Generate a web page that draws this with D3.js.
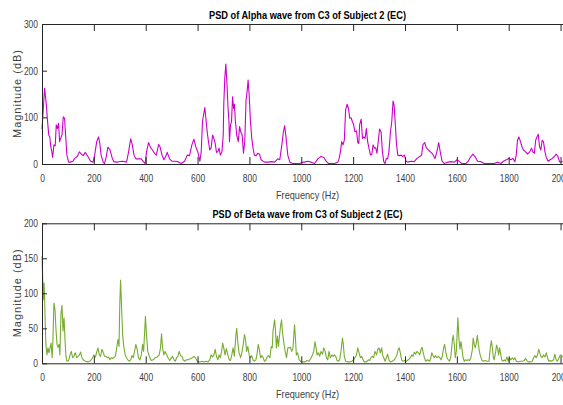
<!DOCTYPE html>
<html><head><meta charset="utf-8">
<script src="https://cdn.jsdelivr.net/npm/d3@7/dist/d3.min.js"></script>
<style>
body{margin:0;background:#fff;overflow:hidden}
text{font-family:"Liberation Sans Narrow","Liberation Sans",Arial,sans-serif}
</style>
</head><body>
<svg id="c" width="563" height="405"></svg>
<script>
// ---- data ----
const xTicks = [0,200,400,600,800,1000,1200,1400,1600,1800,2000];
const alphaYTicks = [0,100,200,300];
const betaYTicks = [0,50,100,150,200];
const alphaTitle = "PSD of Alpha wave from C3 of Subject 2 (EC)";
const betaTitle = "PSD of Beta wave from C3 of Subject 2 (EC)";
const xLabel = "Frequency (Hz)";
const yLabel = "Magnitude (dB)";

const alphaFreq = [0,10,17,20,26,30,34,38,41,46,51,55,59,64,68,72,77,82,87,91,96,103,110,119,126,136,144,152,159,167,177,188,197,203,211,218,223,228,236,241,248,254,262,270,277,288,298,308,319,326,334,342,348,355,362,373,383,391,398,403,411,419,426,434,441,450,455,463,470,477,483,492,501,511,524,537,550,560,569,578,586,593,601,609,614,619,623,628,632,637,642,647,652,658,663,668,673,678,683,688,694,699,701,705,709,713,717,721,723,727,731,735,739,742,746,751,757,762,767,772,777,782,787,791,795,799,804,809,814,819,826,832,839,845,858,871,884,897,909,917,925,931,936,941,948,956,967,980,993,1006,1012,1025,1038,1051,1064,1076,1087,1096,1105,1115,1128,1141,1146,1151,1156,1161,1166,1171,1177,1182,1187,1192,1197,1202,1207,1213,1218,1222,1225,1231,1236,1241,1246,1251,1256,1261,1267,1272,1277,1282,1287,1292,1297,1302,1308,1313,1318,1323,1328,1333,1338,1344,1349,1354,1358,1362,1367,1372,1378,1385,1391,1398,1404,1410,1423,1436,1446,1457,1464,1469,1476,1482,1490,1498,1507,1516,1523,1530,1536,1543,1552,1565,1580,1590,1601,1610,1619,1635,1644,1654,1662,1670,1680,1693,1706,1725,1744,1757,1770,1780,1791,1801,1809,1816,1824,1829,1834,1839,1845,1851,1857,1865,1873,1881,1888,1893,1899,1904,1909,1914,1919,1924,1929,1934,1940,1945,1952,1960,1968,1976,1983,1990,1996,2000,2008];
const alphaMag = [75,162,126,101,62,58,37,26,14,41,39,84,76,87,48,55,62,101,98,62,19,4,4,6,12,16,26,21,18,25,16,6,4,19,48,58,44,19,4,1,16,36,31,14,5,4,5,6,5,4,26,54,42,19,11,11,11,5,1,26,46,35,30,23,19,42,37,19,9,16,25,11,6,6,5,1,6,19,18,41,53,37,26,6,26,91,105,121,98,69,48,30,34,62,55,44,25,26,34,19,26,62,126,184,214,176,126,91,48,84,91,144,119,128,91,62,48,80,68,62,23,48,137,155,180,148,91,55,34,19,18,23,21,9,4,4,5,4,11,9,41,69,82,58,19,4,1,1,1,4,4,6,4,1,11,16,14,6,1,1,1,4,12,26,48,41,51,116,128,119,98,99,91,84,69,71,46,44,84,96,55,58,55,76,48,34,19,21,41,34,35,23,49,75,68,26,5,1,12,11,26,69,91,135,126,91,44,19,18,19,16,19,6,4,6,5,12,16,19,41,46,35,30,26,21,12,26,46,26,6,1,4,5,4,9,5,1,1,6,16,21,16,6,5,1,1,1,4,1,6,9,12,9,12,5,19,51,58,49,37,30,26,21,26,34,26,23,51,58,64,37,30,51,48,26,14,6,9,12,16,21,16,5,4,6];

const betaFreq = [0,3,5,8,10,13,15,19,23,27,31,35,39,42,46,50,54,58,62,66,69,73,77,81,85,89,92,96,103,108,113,118,123,128,134,139,144,149,154,159,167,177,188,195,200,206,211,216,221,226,231,236,241,247,252,257,262,267,272,277,283,288,293,297,300,303,307,311,316,321,326,331,337,342,347,352,357,362,367,372,378,383,388,392,396,399,403,408,414,421,429,437,444,452,457,461,465,470,475,480,486,493,498,503,509,514,519,524,529,534,539,545,550,557,565,573,581,586,591,596,601,609,617,624,632,640,647,652,658,663,668,673,678,683,688,694,697,701,706,711,717,722,727,732,737,742,748,751,755,760,766,771,776,781,785,789,794,799,804,809,814,819,825,830,834,837,843,848,853,858,863,868,873,879,884,888,891,897,900,904,908,912,916,920,924,927,932,938,943,948,953,958,963,968,974,977,981,986,992,999,1007,1015,1022,1030,1038,1043,1048,1053,1057,1061,1066,1071,1076,1082,1087,1092,1097,1102,1107,1112,1118,1123,1128,1133,1138,1143,1148,1153,1159,1162,1166,1171,1179,1187,1195,1202,1207,1213,1218,1223,1228,1233,1238,1243,1251,1259,1264,1269,1274,1279,1284,1290,1295,1300,1305,1310,1314,1318,1323,1328,1333,1338,1344,1351,1359,1364,1369,1374,1378,1382,1387,1392,1398,1405,1413,1421,1426,1431,1436,1441,1446,1452,1457,1462,1466,1469,1475,1480,1487,1495,1500,1503,1508,1513,1518,1523,1529,1534,1539,1544,1549,1553,1557,1562,1567,1572,1577,1583,1586,1590,1594,1598,1601,1604,1608,1612,1616,1620,1624,1629,1634,1639,1644,1649,1654,1660,1663,1667,1671,1675,1679,1683,1687,1690,1696,1701,1708,1716,1724,1729,1733,1737,1741,1744,1750,1753,1757,1761,1765,1769,1773,1778,1783,1788,1793,1798,1803,1809,1814,1819,1824,1829,1837,1845,1852,1860,1865,1870,1875,1883,1891,1896,1901,1906,1911,1916,1920,1924,1929,1934,1940,1945,1950,1955,1960,1965,1973,1978,1983,1988,1994,1999,2004,2008];
const betaMag = [153,117,91,115,93,50,27,12,22,15,22,29,8,31,86,77,48,27,23,27,12,70,83,46,65,31,12,3,4,12,17,8,10,15,8,10,12,16,8,5,3,2,4,8,12,9,16,22,12,10,20,16,10,10,8,9,5,8,7,8,10,22,34,24,84,119,79,41,22,12,8,5,3,5,11,8,17,27,20,8,5,12,27,17,46,67,41,17,10,4,5,8,9,12,22,42,22,12,17,13,8,4,7,10,5,3,8,10,17,11,10,5,3,5,5,7,8,10,8,5,2,2,3,2,3,2,5,12,9,12,20,10,5,12,8,20,29,22,12,21,12,5,4,12,22,10,41,50,31,15,8,16,27,41,34,17,24,12,8,11,5,3,5,15,27,22,8,11,8,3,4,9,11,8,24,22,46,62,50,22,39,24,39,53,62,46,31,17,8,22,22,23,17,22,55,39,12,15,5,2,2,2,4,3,8,12,17,31,22,12,15,10,17,13,22,17,8,5,17,8,12,10,12,10,4,3,5,17,36,27,10,3,2,2,3,5,8,12,22,15,8,10,5,2,2,5,4,8,10,8,17,12,20,22,15,22,11,8,3,8,13,5,2,3,5,8,12,20,22,15,5,3,4,3,5,8,12,10,16,13,17,15,12,20,23,17,8,3,5,3,8,15,11,8,11,8,10,8,5,10,22,27,17,8,5,3,10,34,40,27,8,17,41,65,36,20,31,20,8,3,5,4,5,4,8,20,36,27,22,29,40,27,17,12,5,3,4,3,3,22,32,22,8,5,17,26,22,12,22,13,5,3,5,3,9,3,8,5,8,5,8,3,2,3,3,4,7,4,2,2,3,8,11,8,12,20,15,10,8,12,9,15,8,3,4,3,5,13,5,3,8,12,11,9];

// ---- drawing ----
const svg = d3.select("#c");
const axisColor = "#262626", tickText = "#404040";
const x = d3.scaleLinear().domain([0, 2048]).range([42, 573]);

function panel(o) {
  const y = d3.scaleLinear().domain([0, o.yMax]).range([o.bottom, o.top]);
  const g = svg.append("g");
  const line = d3.line().x((d, i) => x(o.freq[i])).y(d => y(d));
  g.append("path").datum(o.mag)
    .attr("fill", "none").attr("stroke", o.color).attr("stroke-width", 1.1)
    .attr("stroke-linejoin", "round").attr("d", line);

  const styleAxis = sel => {
    sel.select(".domain").attr("stroke", axisColor).attr("stroke-width", 1);
    sel.selectAll(".tick line").attr("stroke", axisColor).attr("stroke-width", 1);
    sel.selectAll(".tick text").attr("fill", tickText).attr("font-size", 11)
      .attr("font-family", '"Liberation Sans Narrow","Liberation Sans",Arial,sans-serif')
      .attr("textLength", d => String(d).length * 4.7)
      .attr("lengthAdjust", "spacingAndGlyphs");
  };
  g.append("g").attr("transform", `translate(0,${o.bottom})`)
    .call(d3.axisBottom(x).tickValues(xTicks).tickFormat(d3.format("d")).tickSizeInner(-7).tickSizeOuter(0).tickPadding(10))
    .call(styleAxis);
  g.append("g").attr("transform", `translate(0,${o.top})`)
    .call(d3.axisTop(x).tickValues(xTicks).tickFormat("").tickSizeInner(-7).tickSizeOuter(0))
    .call(sel => { sel.select(".domain").attr("stroke", axisColor); sel.selectAll(".tick line").attr("stroke", axisColor); });
  g.append("g").attr("transform", `translate(42,0)`)
    .call(d3.axisLeft(y).tickValues(o.yTicks).tickFormat(d3.format("d")).tickSizeInner(-5).tickSizeOuter(0).tickPadding(4))
    .call(styleAxis);
  g.append("g").attr("transform", `translate(573,0)`)
    .call(d3.axisRight(y).tickValues(o.yTicks).tickFormat("").tickSizeInner(-5).tickSizeOuter(0))
    .call(sel => { sel.select(".domain").attr("stroke", axisColor); sel.selectAll(".tick line").attr("stroke", axisColor); });

  const cx = (x.range()[0] + x.range()[1]) / 2;
  g.append("text").attr("x", cx).attr("y", o.titleY).attr("text-anchor", "middle")
    .attr("font-size", 11).attr("font-weight", "bold").attr("fill", "#000")
    .attr("textLength", o.titleW).attr("lengthAdjust", "spacingAndGlyphs").text(o.title);
  g.append("text").attr("x", cx).attr("y", o.bottom + 35).attr("text-anchor", "middle")
    .attr("font-size", 11).attr("fill", tickText)
    .attr("textLength", 63).attr("lengthAdjust", "spacingAndGlyphs").text(xLabel);
  const my = (o.top + o.bottom) / 2;
  g.append("text").attr("transform", `translate(20.5,${my}) rotate(-90)`).attr("text-anchor", "middle")
    .attr("font-size", 11).attr("fill", tickText)
    .attr("textLength", 88).attr("lengthAdjust", "spacing").text(yLabel);
}

panel({top: 24, bottom: 164, yMax: 300, yTicks: alphaYTicks, freq: alphaFreq, mag: alphaMag,
       color: "#cc00cc", title: alphaTitle, titleY: 19, titleW: 197});
panel({top: 223.3, bottom: 363.3, yMax: 200, yTicks: betaYTicks, freq: betaFreq, mag: betaMag,
       color: "#77ac30", title: betaTitle, titleY: 218.3, titleW: 190});
</script>
</body></html>
